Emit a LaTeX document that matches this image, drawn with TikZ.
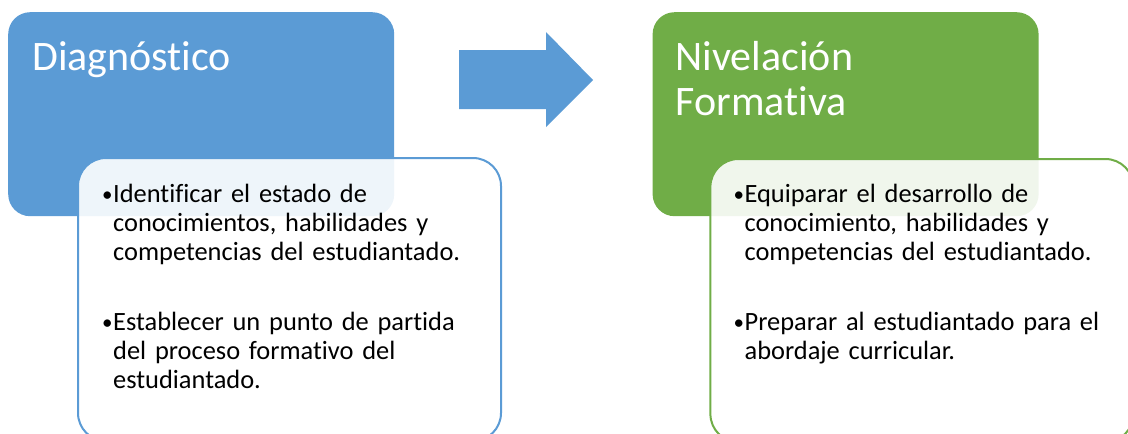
\documentclass[tikz,border=0pt]{standalone}
\usepackage{fontspec}
\setmainfont{Carlito}[Ligatures=CommonOff]
\usetikzlibrary{positioning}
\definecolor{diagblue}{HTML}{5B9BD5}
\definecolor{nivgreen}{HTML}{70AD47}
\setlength{\parskip}{0pt}
\newcommand{\bulitem}[1]{\hangindent=11pt\hangafter=1\noindent\makebox[11pt][l]{\raisebox{1pt}{\fontsize{21}{21}\selectfont •}}#1\par}
\begin{document}
\begin{tikzpicture}[x=1pt,y=-1pt,node distance=258pt,
  topbox/.style={fill=#1,draw=none,rounded corners=22pt,minimum width=386pt,minimum height=204pt,inner sep=0pt},
  lowbox/.style={draw=#1,line width=2pt,fill=white,fill opacity=0.9,rounded corners=28pt,minimum width=423pt,minimum height=283pt,inner sep=0pt},
  headtxt/.style={text=white,font=\fontsize{42}{45}\selectfont,align=left,inner sep=0pt},
  bodytxt/.style={text=black,font=\fontsize{26.4}{29}\selectfont,text width=400pt,align=left,inner sep=0pt}]
\useasboundingbox (0,0) rectangle (1128,434);

\node[topbox=diagblue, anchor=north west] (diag) at (8,12) {};
\node[topbox=nivgreen, right=of diag]     (nivel) {};
\node[headtxt, anchor=base west] (diagT)  at ([shift={(24,58)}]diag.north west)  {Diagnóstico};
\node[headtxt, anchor=base west] (nivelT) at ([shift={(23,103)}]nivel.north west) {Nivelación\\Formativa};

\node[lowbox=diagblue, anchor=north west] (diagL)  at ([shift={(69,145)}]diag.north west)  {};
\node[lowbox=nivgreen, anchor=north west] (nivelL) at ([shift={(57,146)}]nivel.north west) {};

\node[bodytxt, anchor=base west] (diagB) at ([shift={(25,45)}]diagL.north west) {%
  \bulitem{Identificar el estado de\newline conocimientos, habilidades y\newline competencias del estudiantado.}
  \vspace{41pt}
  \bulitem{Establecer un punto de partida\newline del proceso formativo del\newline estudiantado.}};
\node[bodytxt, anchor=base west] (nivelB) at ([shift={(24,44)}]nivelL.north west) {%
  \bulitem{Equiparar el desarrollo de\newline conocimiento, habilidades y\newline competencias del estudiantado.}
  \vspace{41pt}
  \bulitem{Preparar al estudiantado para el\newline abordaje curricular.}};

% flecha entre las dos etapas
\fill[diagblue] (459,50) -- (546,50) -- (546,32) -- (593,80) -- (546,127) -- (546,109) -- (459,109) -- cycle;
\end{tikzpicture}
\end{document}
